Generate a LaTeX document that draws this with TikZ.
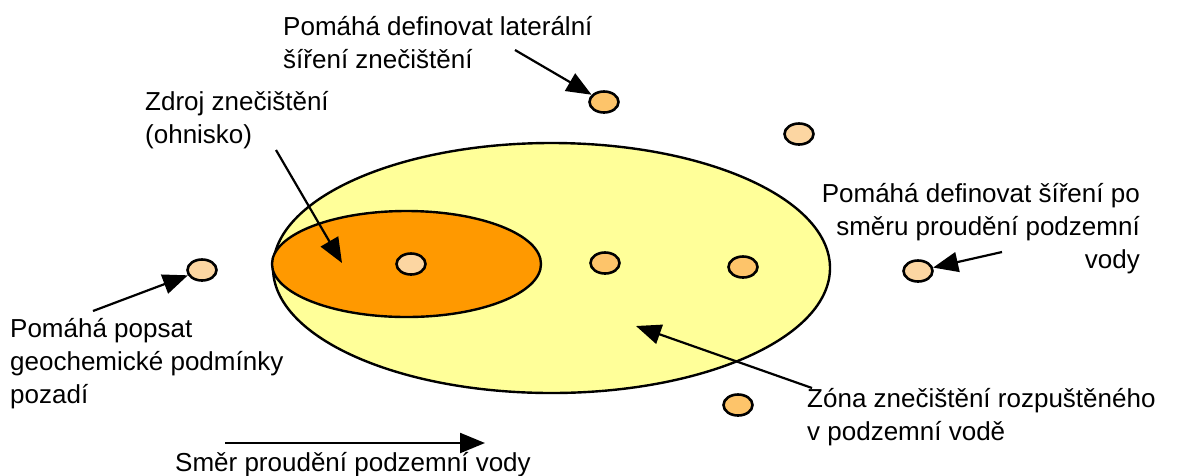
\documentclass[tikz,border=0pt]{standalone}
\usepackage{fontspec}
\setmainfont{Liberation Sans}
\usetikzlibrary{arrows.meta,shapes.geometric}
\definecolor{zonecol}{HTML}{FFFF99}
\definecolor{srccol}{HTML}{FF9900}
\definecolor{welllight}{HTML}{FCD6A2}
\definecolor{welldark}{HTML}{FDC46A}
\tikzset{
  lbl/.style={inner sep=0pt, font=\fontsize{26}{33}\selectfont},
  lblL/.style={lbl, anchor=base west},
  lblR/.style={lbl, anchor=base east},
  well/.style={ellipse, draw=black, line width=2.6pt, minimum width=29pt, minimum height=21pt, inner sep=0pt},
  wellA/.style={well, fill=welllight},
  wellB/.style={well, fill=welldark},
  pointer/.style={line width=2.2pt, -{Triangle[length=25pt,width=20pt]}},
  zone/.style={line width=2.4pt},
}
\begin{document}
\begin{tikzpicture}[x=1pt,y=-1pt]
\useasboundingbox (0,0) rectangle (1180,475);
% zones
\draw[zone, fill=zonecol] (551.5,268) ellipse [x radius=278.5, y radius=125];
\draw[zone, fill=srccol] (406.5,264) ellipse [x radius=134.5, y radius=53];
% wells
\node[wellA] (c1) at (411,264) {};
\node[wellB] (c2) at (605,263) {};
\node[wellB] (c3) at (743,267) {};
\node[wellA] (c4) at (202,270) {};
\node[wellA] (c5) at (918,271) {};
\node[wellB] (c6) at (738,405) {};
\node[wellA] (c7) at (799,134) {};
\node[wellB] (c8) at (604,102) {};
% texts
\node[lblL] (t1a) at (283,35) {Pomáhá definovat laterální};
\node[lblL] (t1b) at (283,68) {šíření znečištění};
\node[lblL] (t2a) at (145,110) {Zdroj znečištění};
\node[lblL] (t2b) at (145,143) {(ohnisko)};
\node[lblR] (t3a) at (1140,202) {Pomáhá definovat šíření po};
\node[lblR] (t3b) at (1140,235) {směru proudění podzemní};
\node[lblR] (t3c) at (1140,268) {vody};
\node[lblL] (t4a) at (10,337) {Pomáhá popsat};
\node[lblL] (t4b) at (10,370) {geochemické podmínky};
\node[lblL] (t4c) at (10,403) {pozadí};
\node[lblL] (t5a) at (807,407) {Zóna znečištění rozpuštěného};
\node[lblL] (t5b) at (807,440) {v podzemní vodě};
\node[lblL] (t6) at (175,471) {Směr proudění podzemní vody};
% connector ends
\coordinate (s1) at (515,50);
\coordinate (s2) at (276,150);
\coordinate (e2) at (342,263);
\coordinate (s3) at (1002,252);
\coordinate (s4) at (93,311);
\coordinate (s5) at (812,388);
\coordinate (e5) at (636,326);
\coordinate (s6) at (225,443);
\coordinate (e6) at (485,443);
% connectors
\draw[pointer] (s1) -- (c8);
\draw[pointer] (s2) -- (e2);
\draw[pointer] (s3) -- (c5);
\draw[pointer] (s4) -- (c4);
\draw[pointer] (s5) -- (e5);
\draw[pointer] (s6) -- (e6);
\end{tikzpicture}
\end{document}
